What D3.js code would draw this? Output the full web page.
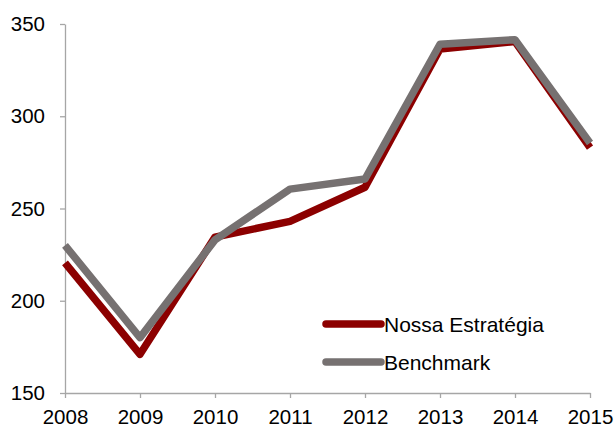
<!DOCTYPE html>
<html>
<head>
<meta charset="utf-8">
<script src="https://cdn.jsdelivr.net/npm/d3@7"></script>
<style>
  body { margin: 0; background: #fff; }
  text { font-family: "Liberation Sans", Arial, sans-serif; }
</style>
</head>
<body>
<svg id="chart" width="615" height="427"></svg>
<script>
const years = [2008, 2009, 2010, 2011, 2012, 2013, 2014, 2015];
const nossa = [220.5, 171, 234.5, 243, 261.5, 336.5, 340.5, 283];
const benchmark = [230, 180, 233, 260.5, 266, 339, 341.5, 285.5];
const yTicks = [150, 200, 250, 300, 350];
const seriesNames = ["Nossa Estratégia", "Benchmark"];
const seriesColors = ["#8c0000", "#767171"];

const svg = d3.select("#chart"),
  margin = { left: 65, right: 25, top: 24, bottom: 34 },
  width = +svg.attr("width"),
  height = +svg.attr("height");

const x = d3.scalePoint().domain(years).range([margin.left, width - margin.right]);
const y = d3.scaleLinear().domain([150, 350]).range([height - margin.bottom, margin.top]);

const axisColor = "#a6a6a6";
const fontSize = 20.5;

// y axis
const yAxis = svg.append("g")
  .attr("transform", `translate(${margin.left},0)`)
  .call(d3.axisLeft(y).tickValues(yTicks).tickSize(5).tickSizeOuter(0).tickPadding(15));
yAxis.select(".domain").attr("stroke", axisColor).attr("stroke-width", 1.3);
yAxis.selectAll(".tick line").attr("stroke", axisColor).attr("stroke-width", 1.3);
yAxis.selectAll("text").style("font-size", fontSize + "px").attr("fill", "#000");

// x axis
const xAxis = svg.append("g")
  .attr("transform", `translate(0,${height - margin.bottom})`)
  .call(d3.axisBottom(x).tickSize(5).tickSizeOuter(0).tickPadding(11).tickFormat(d3.format("d")));
xAxis.select(".domain").attr("stroke", axisColor).attr("stroke-width", 1.3);
xAxis.selectAll(".tick line").attr("stroke", axisColor).attr("stroke-width", 1.3);
xAxis.selectAll("text").style("font-size", fontSize + "px").attr("fill", "#000").attr("dy", "0.75em");

const line = d3.line()
  .x((d, i) => x(years[i]))
  .y(d => y(d));

const allSeries = [nossa, benchmark];
allSeries.forEach((s, i) => {
  svg.append("path")
    .datum(s)
    .attr("fill", "none")
    .attr("stroke", seriesColors[i])
    .attr("stroke-width", 7.5)
    .attr("stroke-linejoin", "round")
    .attr("stroke-linecap", "butt")
    .attr("d", line);
});

// legend
const legend = svg.append("g").attr("transform", "translate(326,324)");
seriesNames.forEach((name, i) => {
  const g = legend.append("g").attr("transform", `translate(0,${i * 38})`);
  g.append("line")
    .attr("x1", 0).attr("x2", 55)
    .attr("stroke", seriesColors[i])
    .attr("stroke-width", 7.5)
    .attr("stroke-linecap", "round");
  g.append("text")
    .attr("x", 58).attr("y", 7.5)
    .style("font-size", "21px")
    .text(name);
});
</script>
</body>
</html>
